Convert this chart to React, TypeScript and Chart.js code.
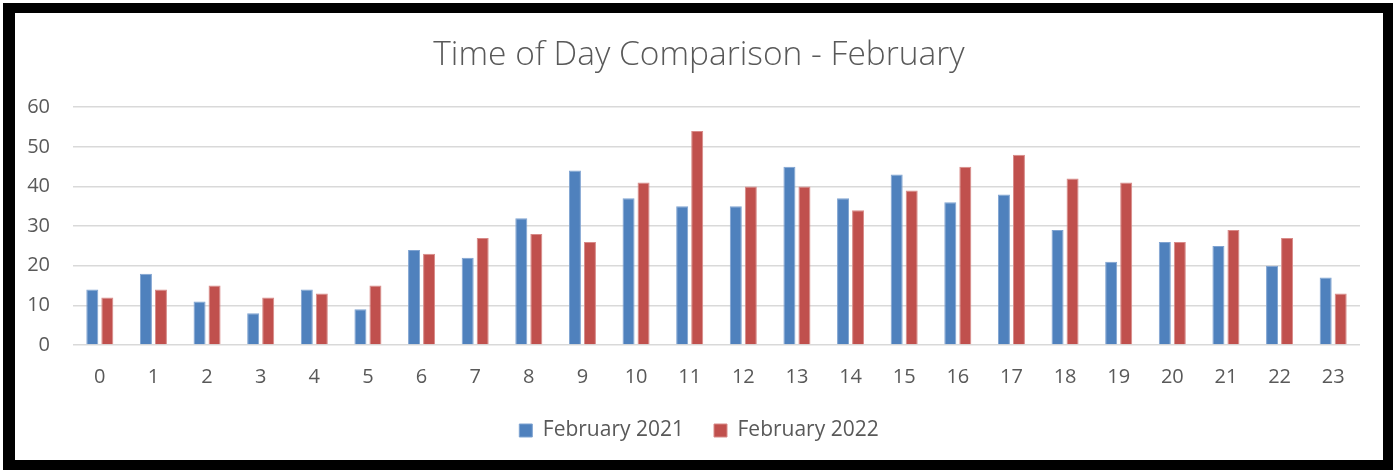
import React, { useEffect, useRef } from "react";
import { Chart, registerables } from "chart.js";

Chart.register(...registerables);

const hours = ["0","1","2","3","4","5","6","7","8","9","10","11","12","13","14","15","16","17","18","19","20","21","22","23"];
const feb2021 = [14,18,11,8,14,9,24,22,32,44,37,35,35,45,37,43,36,38,29,21,26,25,20,17];
const feb2022 = [12,14,15,12,13,15,23,27,28,26,41,54,40,40,34,39,45,48,42,41,26,29,27,13];
const seriesNames = ["February 2021", "February 2022"];
const titleText = "Time of Day Comparison - February";

const FONT = "'Open Sans', 'Liberation Sans', sans-serif";
const TEXT = "#595959";

export default function App() {
  const ref = useRef<HTMLCanvasElement | null>(null);
  useEffect(() => {
    document.body.style.margin = "0";
    const ctx = ref.current!;
    const chart = new Chart(ctx, {
      type: "bar",
      data: {
        labels: hours,
        datasets: [
          { label: seriesNames[0], data: feb2021, backgroundColor: "#4F81BD", borderColor: "#7FA3D1", borderWidth: 1 },
          { label: seriesNames[1], data: feb2022, backgroundColor: "#C0504D", borderColor: "#D88A88", borderWidth: 1 },
        ],
      },
      options: {
        animation: false,
        responsive: false,
        maintainAspectRatio: false,
        layout: { padding: { left: 0, right: 0, top: 0, bottom: 10 } },
        datasets: { bar: { categoryPercentage: 0.56, barPercentage: 0.8 } },
        plugins: {
          title: {
            display: true,
            text: titleText,
            color: TEXT,
            font: { family: FONT, size: 33.5, weight: "300", lineHeight: 1.2 },
            padding: { top: 22, bottom: 32 },
          },
          legend: {
            position: "bottom",
            maxHeight: 60,
            labels: {
              color: TEXT,
              font: { family: FONT, size: 21 },
              boxWidth: 13,
              boxHeight: 13,
              padding: 30,
              useBorderRadius: false,
            },
          },
          tooltip: { enabled: false },
        },
        scales: {
          x: {
            afterFit: (scale: any) => { scale.height = 45; },
            grid: { display: false, drawTicks: false },
            border: { display: false },
            ticks: { color: TEXT, font: { family: FONT, size: 20 }, padding: 20, maxRotation: 0, autoSkip: false },
          },
          y: {
            min: 0,
            max: 60,
            afterFit: (scale: any) => { scale.width = 58; },
            grid: { color: "#D9D9D9", lineWidth: 1.5, drawTicks: false },
            border: { display: false },
            ticks: { stepSize: 10, color: TEXT, font: { family: FONT, size: 20 }, padding: 23 },
          },
          yRight: {
            position: "right",
            min: 0,
            max: 60,
            afterFit: (scale: any) => { scale.width = 23; },
            grid: { display: false, drawTicks: false },
            border: { display: false },
            ticks: { display: false },
          },
        },
      },
    });
    return () => chart.destroy();
  }, []);

  return (
    <div style={{ position: "relative", width: 1393, height: 470, background: "#fff", overflow: "hidden" }}>
      <div
        style={{
          position: "absolute",
          left: 3,
          top: 3,
          width: 1390,
          height: 467,
          boxSizing: "border-box",
          borderLeft: "12px solid #000",
          borderTop: "10px solid #000",
          borderRight: "10px solid #000",
          borderBottom: "10px solid #000",
          background: "#fff",
        }}
      >
        <canvas ref={ref} width={1368} height={447} style={{ display: "block", width: 1368, height: 447 }} />
      </div>
    </div>
  );
}
